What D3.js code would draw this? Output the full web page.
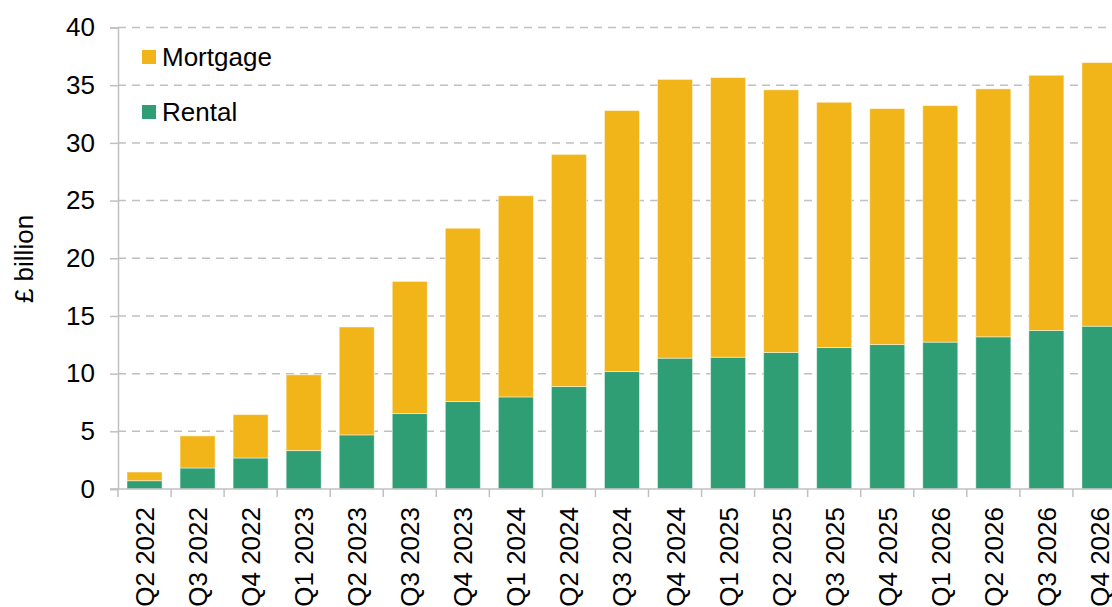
<!DOCTYPE html>
<html>
<head>
<meta charset="utf-8">
<script src="https://cdn.jsdelivr.net/npm/d3@7"></script>
<style>
  html, body { margin: 0; padding: 0; background: #fff; }
  svg { display: block; font-family: "Liberation Sans", Arial, sans-serif; }
</style>
</head>
<body>
<main></main>
<script>
const quarters = [
  'Q2 2022', 'Q3 2022', 'Q4 2022', 'Q1 2023', 'Q2 2023', 'Q3 2023', 'Q4 2023',
  'Q1 2024', 'Q2 2024', 'Q3 2024', 'Q4 2024', 'Q1 2025', 'Q2 2025', 'Q3 2025',
  'Q4 2025', 'Q1 2026', 'Q2 2026', 'Q3 2026', 'Q4 2026',
];
const rental = [
  0.72, 1.82, 2.69, 3.33, 4.69, 6.54, 7.58, 7.98, 8.88, 10.18,
  11.34, 11.42, 11.83, 12.26, 12.52, 12.73, 13.19, 13.74, 14.11,
];
const total = [
  1.47, 4.6, 6.45, 9.9, 14.04, 17.99, 22.6, 25.42, 29.0, 32.8,
  35.5, 35.66, 34.6, 33.52, 32.97, 33.23, 34.68, 35.86, 36.96,
];
const mortgage = total.map((t, i) => t - rental[i]);
const yTicks = [0, 5, 10, 15, 20, 25, 30, 35, 40];

const series = [
  { key: 'rental', label: 'Rental', color: '#2f9e74' },
  { key: 'mortgage', label: 'Mortgage', color: '#f1b51a' },
];

const width = 1112;
const height = 607;
const grey = '#c0c0c0';
const fontSize = 26;

const rows = quarters.map((q, i) => ({ q, rental: rental[i], mortgage: mortgage[i] }));
const stacked = d3.stack().keys(series.map(d => d.key))(rows);

const x = d3.scaleBand()
  .domain(quarters)
  .range([118, 118 + 19 * 53.05])
  .paddingInner(0.34)
  .paddingOuter(0.17);

const y = d3.scaleLinear().domain([0, 40]).range([489, 27.5]);

const svg = d3.select('main')
  .append('svg')
  .attr('width', width)
  .attr('height', height)
  .attr('viewBox', [0, 0, width, height]);

// gridlines
svg.append('g')
  .selectAll('line')
  .data(yTicks.filter(d => d > 0))
  .enter()
  .append('line')
  .attr('x1', 118)
  .attr('x2', width)
  .attr('y1', d => y(d))
  .attr('y2', d => y(d))
  .attr('stroke', grey)
  .attr('stroke-width', 1.5)
  .attr('stroke-dasharray', '8,6');

// bars
svg.append('g')
  .selectAll('g')
  .data(stacked)
  .enter()
  .append('g')
  .attr('fill', (d, i) => series[i].color)
  .selectAll('rect')
  .data(d => d)
  .enter()
  .append('rect')
  .attr('x', d => x(d.data.q))
  .attr('width', x.bandwidth())
  .attr('y', d => y(d[1]))
  .attr('height', d => y(d[0]) - y(d[1]))
  .attr('stroke', '#fff')
  .attr('stroke-opacity', 0.45)
  .attr('stroke-width', 1);

// y axis
const yAxis = svg.append('g')
  .attr('transform', 'translate(118,0)')
  .call(d3.axisLeft(y).tickValues(yTicks).tickSize(8).tickPadding(15));
yAxis.select('.domain').attr('stroke', grey).attr('stroke-width', 1.5);
yAxis.selectAll('.tick line').attr('stroke', grey).attr('stroke-width', 1.5);
yAxis.selectAll('.tick text')
  .attr('font-size', fontSize)
  .attr('fill', '#000')
  .attr('font-family', '"Liberation Sans", Arial, sans-serif');

// x axis
const step = x.step();
const bounds = quarters.map(q => x(q) - step * x.paddingInner() / 2);
bounds.push(bounds[bounds.length - 1] + step);

svg.append('line')
  .attr('x1', 110)
  .attr('x2', width)
  .attr('y1', y(0))
  .attr('y2', y(0))
  .attr('stroke', grey)
  .attr('stroke-width', 1.5);

svg.append('g')
  .selectAll('line')
  .data(bounds)
  .enter()
  .append('line')
  .attr('x1', d => d)
  .attr('x2', d => d)
  .attr('y1', y(0))
  .attr('y2', y(0) + 8)
  .attr('stroke', grey)
  .attr('stroke-width', 1.5);

svg.append('g')
  .selectAll('text')
  .data(quarters)
  .enter()
  .append('text')
  .attr('transform', d => `translate(${x(d) + x.bandwidth() / 2 + 9.5},${y(0) + 18}) rotate(-90)`)
  .attr('text-anchor', 'end')
  .attr('font-size', fontSize)
  .text(d => d);

// y label
svg.append('text')
  .attr('transform', 'translate(33,259) rotate(-90)')
  .attr('text-anchor', 'middle')
  .attr('font-size', fontSize)
  .text('£ billion');

// legend
const legend = svg.append('g')
  .selectAll('g')
  .data(series.slice().reverse())
  .enter()
  .append('g')
  .attr('transform', (d, i) => `translate(142,${50 + i * 55})`);

legend.append('rect')
  .attr('width', 14)
  .attr('height', 14)
  .attr('fill', d => d.color);

legend.append('text')
  .attr('x', 20)
  .attr('y', 16)
  .attr('font-size', fontSize)
  .text(d => d.label);
</script>
</body>
</html>
